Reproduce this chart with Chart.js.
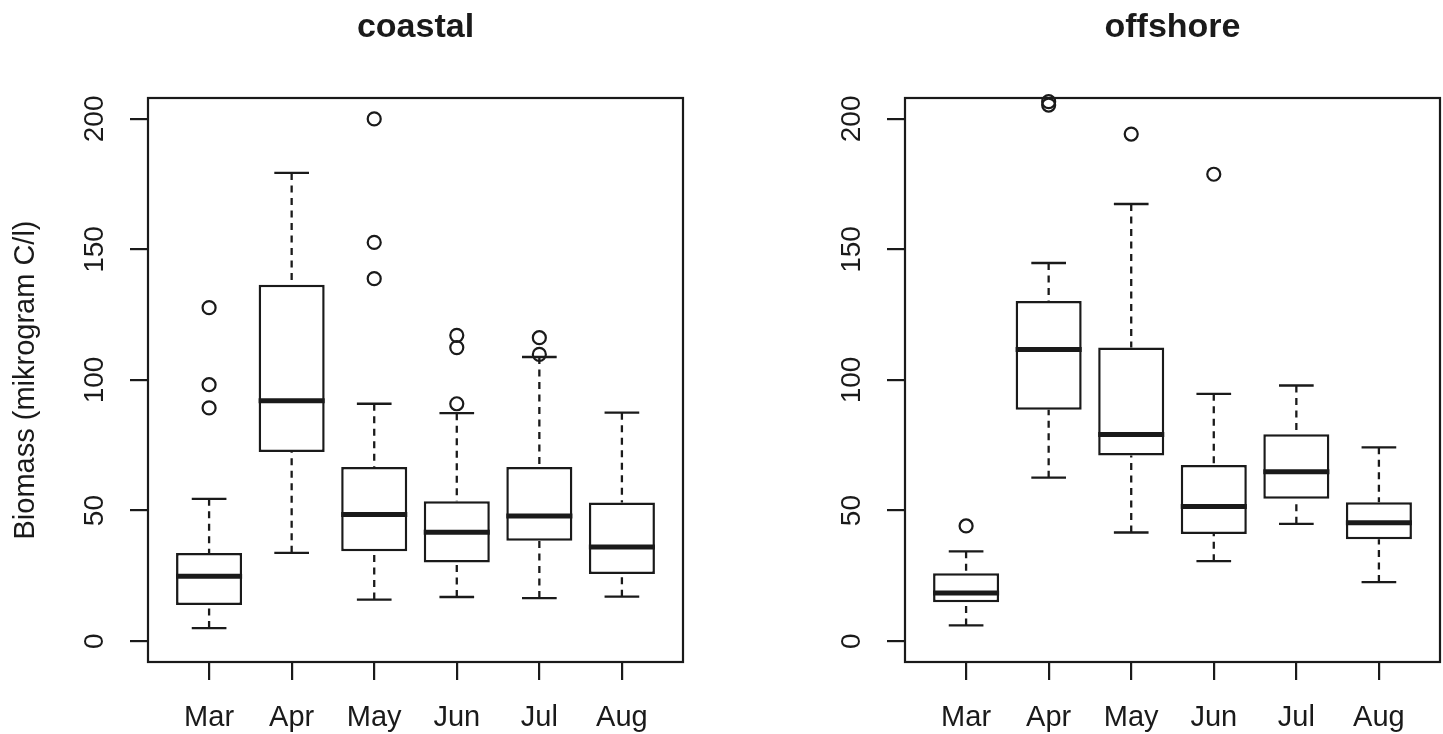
<!DOCTYPE html>
<html>
<head>
<meta charset="utf-8">
<script src="https://cdn.jsdelivr.net/npm/chart.js@4.4.1/dist/chart.umd.min.js"></script>
<style>
  html, body { margin: 0; padding: 0; background: #ffffff; overflow: hidden; }
  #wrap { position: relative; width: 1443px; height: 734px; }
  canvas { position: absolute; top: 0; }
</style>
</head>
<body>
<div id="wrap">
  <canvas id="coastal" width="720" height="734" style="left:0px;width:720px;height:734px"></canvas>
  <canvas id="offshore" width="721" height="734" style="left:722px;width:721px;height:734px"></canvas>
</div>
<script>
// ---------- data ----------
const months = ['Mar', 'Apr', 'May', 'Jun', 'Jul', 'Aug'];
const yTicks = [0, 50, 100, 150, 200];

// coastal
const coastalLow  = [5.0, 33.8, 15.9, 16.9, 16.5, 17.0];
const coastalQ1   = [13.8, 72.4, 34.4, 30.1, 38.4, 25.7];
const coastalMed  = [24.8, 92.1, 48.5, 41.7, 47.9, 36.0];
const coastalQ3   = [33.7, 136.5, 66.7, 53.6, 66.7, 53.1];
const coastalHigh = [54.5, 179.3, 90.9, 87.3, 108.8, 87.5];
const coastalOut  = [[127.7, 98.2, 89.3], [], [200.0, 152.7, 138.8], [117.1, 112.4, 90.9], [116.2, 109.8], []];

// offshore
const offshoreLow  = [6.0, 62.6, 41.6, 30.6, 44.9, 22.6];
const offshoreQ1   = [14.9, 88.6, 71.1, 41.0, 54.5, 39.0];
const offshoreMed  = [18.4, 111.7, 79.1, 51.6, 64.9, 45.3];
const offshoreQ3   = [26.0, 130.3, 112.4, 67.4, 79.2, 53.2];
const offshoreHigh = [34.4, 144.8, 167.4, 94.7, 97.9, 74.2];
const offshoreOut  = [[44.1], [206.6, 205.3], [194.2], [178.8], [], []];

// ---------- styling ----------
const INK = '#1a1a1a';
const FONT = '"Liberation Sans", Arial, Helvetica, sans-serif';
const BOX_HALF = 0.4;   // half box width in category units
const CAP_HALF = 0.21;  // half staple width in category units

Chart.defaults.font.family = FONT;
Chart.defaults.color = INK;

function makeBoxPlugin(low, med, high, q1, q3) {
  return {
    id: 'boxParts',
    afterDatasetsDraw(chart) {
      const { ctx, scales: { x, y } } = chart;
      const halfBox = x.getPixelForValue(1 + BOX_HALF) - x.getPixelForValue(1);
      const halfCap = x.getPixelForValue(1 + CAP_HALF) - x.getPixelForValue(1);
      ctx.save();
      ctx.strokeStyle = INK;
      ctx.lineCap = 'butt';
      for (let i = 0; i < months.length; i++) {
        const px = x.getPixelForValue(i + 1);
        const yLo = y.getPixelForValue(low[i]);
        const yHi = y.getPixelForValue(high[i]);
        const yQ1 = y.getPixelForValue(q1[i]);
        const yQ3 = y.getPixelForValue(q3[i]);
        const yMd = y.getPixelForValue(med[i]);
        // dashed whiskers (drawn from the staple towards the box)
        ctx.lineWidth = 2.3;
        ctx.setLineDash([7, 5.5]);
        ctx.beginPath();
        ctx.moveTo(px, yHi); ctx.lineTo(px, yQ3);
        ctx.stroke();
        ctx.beginPath();
        ctx.moveTo(px, yLo); ctx.lineTo(px, yQ1);
        ctx.stroke();
        ctx.setLineDash([]);
        // staples
        ctx.beginPath();
        ctx.moveTo(px - halfCap, yHi); ctx.lineTo(px + halfCap, yHi);
        ctx.moveTo(px - halfCap, yLo); ctx.lineTo(px + halfCap, yLo);
        ctx.stroke();
        // median
        ctx.lineWidth = 5;
        ctx.beginPath();
        ctx.moveTo(px - halfBox, yMd); ctx.lineTo(px + halfBox, yMd);
        ctx.stroke();
      }
      ctx.restore();
    }
  };
}

const framePlugin = {
  id: 'frame',
  afterDraw(chart) {
    const { ctx, chartArea: a } = chart;
    ctx.save();
    ctx.strokeStyle = INK;
    ctx.lineWidth = 2.2;
    ctx.strokeRect(a.left, a.top, a.right - a.left, a.bottom - a.top);
    ctx.restore();
  }
};

function makeChart(id, title, low, q1, med, q3, high, outliers, yTitle, yWidth, padRight) {
  const boxData = months.map((m, i) => ({ x: i + 1, y: [q1[i], q3[i]] }));
  const outData = [];
  outliers.forEach((arr, i) => arr.forEach(v => outData.push({ x: i + 1, y: v })));

  return new Chart(document.getElementById(id), {
    type: 'bar',
    data: {
      datasets: [
        {
          type: 'bar',
          data: boxData,
          backgroundColor: '#ffffff',
          borderColor: INK,
          borderWidth: 2.5,
          borderSkipped: false,
          barPercentage: BOX_HALF * 2,
          categoryPercentage: 1.0,
          order: 2
        },
        {
          type: 'scatter',
          data: outData,
          pointStyle: 'circle',
          pointRadius: 6.5,
          pointBorderWidth: 2.2,
          pointBorderColor: INK,
          pointBackgroundColor: 'rgba(0,0,0,0)',
          clip: false,
          order: 1
        }
      ]
    },
    options: {
      responsive: false,
      animation: false,
      events: [],
      layout: { autoPadding: false, padding: { left: 0, right: padRight, top: 0, bottom: 0 } },
      plugins: {
        legend: { display: false },
        tooltip: { enabled: false },
        title: {
          display: true,
          text: title,
          fullSize: false,
          color: INK,
          font: { size: 34, weight: 'bold', lineHeight: 1 },
          padding: { top: 11, bottom: 53 }
        }
      },
      scales: {
        x: {
          type: 'linear',
          min: 0.26,
          max: 6.74,
          offset: false,
          grid: { display: true, offset: false, drawOnChartArea: false, drawTicks: true, tickLength: 18, color: INK, lineWidth: 2.2 },
          border: { display: false },
          afterBuildTicks: (s) => { s.ticks = months.map((m, i) => ({ value: i + 1 })); },
          afterFit: (s) => { s.height = 72; s.paddingLeft = 0; s.paddingRight = 0; },
          ticks: {
            autoSkip: false,
            maxRotation: 0,
            minRotation: 0,
            padding: 21,
            color: INK,
            font: { size: 29 },
            callback: (v) => months[Math.round(v) - 1]
          }
        },
        y: {
          type: 'linear',
          min: -8,
          max: 208,
          beginAtZero: false,
          grid: { display: true, drawOnChartArea: false, drawTicks: true, tickLength: 18, color: INK, lineWidth: 2.2 },
          border: { display: false },
          afterBuildTicks: (s) => { s.ticks = yTicks.map(v => ({ value: v })); },
          afterFit: (s) => { s.width = yWidth; s.paddingTop = 0; s.paddingBottom = 0; },
          title: {
            display: !!yTitle,
            text: yTitle || '',
            color: INK,
            font: { size: 29 },
            padding: { top: 8.6, bottom: 0 }
          },
          ticks: {
            minRotation: 90,
            maxRotation: 90,
            crossAlign: 'center',
            padding: 11.6,
            color: INK,
            font: { size: 28 },
            callback: (v) => String(v)
          }
        }
      }
    },
    plugins: [makeBoxPlugin(low, med, high, q1, q3), framePlugin]
  });
}

makeChart('coastal', 'coastal', coastalLow, coastalQ1, coastalMed, coastalQ3, coastalHigh, coastalOut,
          'Biomass (mikrogram C/l)', 148, 37);
makeChart('offshore', 'offshore', offshoreLow, offshoreQ1, offshoreMed, offshoreQ3, offshoreHigh, offshoreOut,
          '', 183, 3);
</script>
</body>
</html>
